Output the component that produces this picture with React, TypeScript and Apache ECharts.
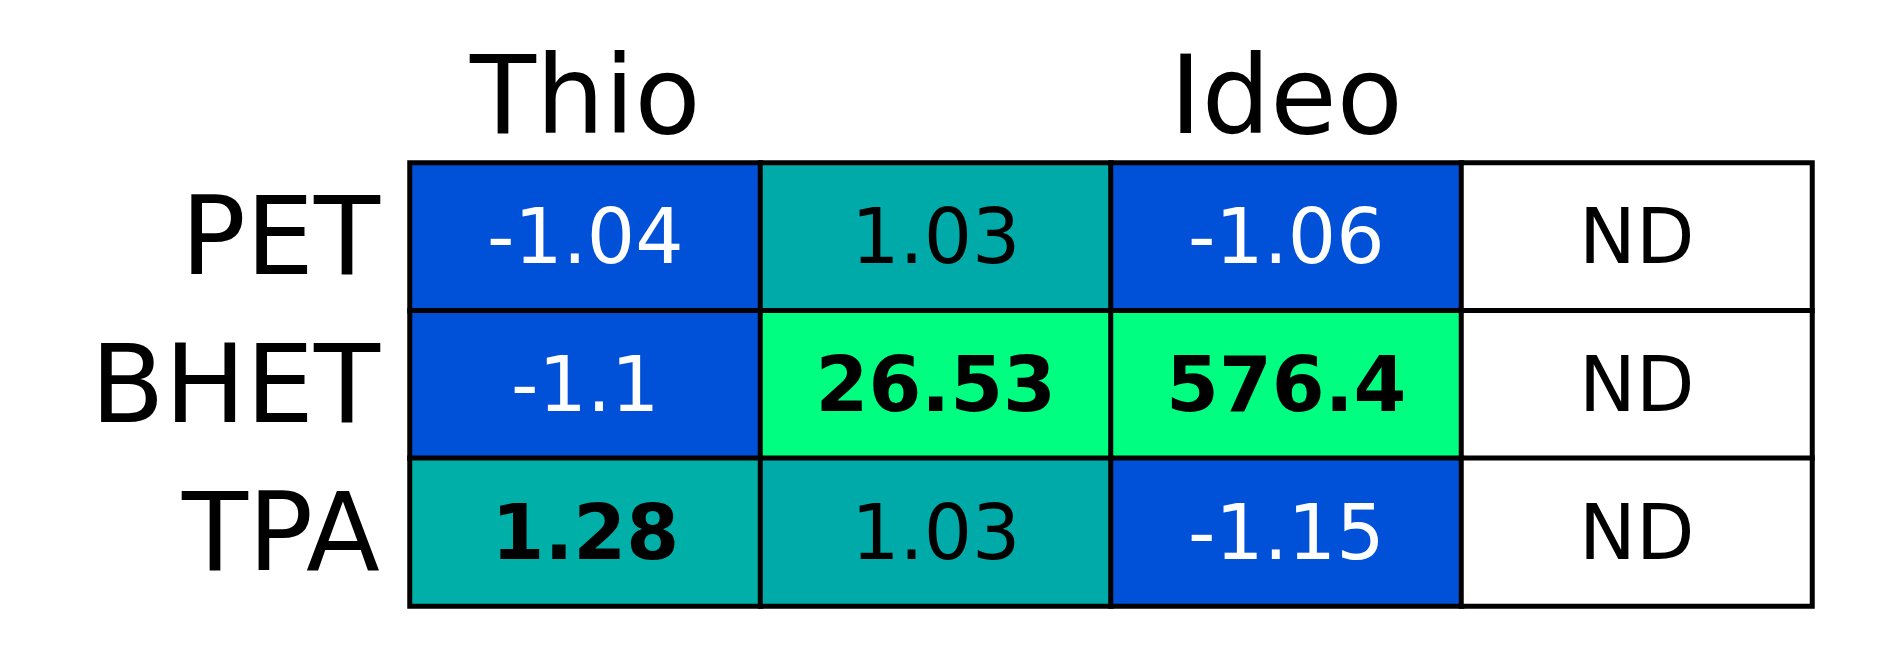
import React, { useEffect, useRef } from "react";
import * as echarts from "echarts";

const columns = ["Thio", "Baci", "Ideo", "Comm"];
const rows = ["PET", "BHET", "TPA"];
const values: (number | null)[][] = [
  [-1.04, 1.03, -1.06, null],
  [-1.1, 26.53, 576.4, null],
  [1.28, 1.03, -1.15, null],
];
const boldCells = [[2, 0], [1, 1], [1, 2]];
const palette = ["#ffffff", "#0050D8", "#00FF80", "#00B0A8", "#00AAA8"];

function colorIndex(v: number | null) {
  if (v === null) return 0;
  if (v < 0) return 1;
  if (v > 10) return 2;
  if (v > 1.1) return 3;
  return 4;
}

export default function App() {
  const ref = useRef<HTMLDivElement>(null);
  useEffect(() => {
    const chart = echarts.init(ref.current!, undefined, { renderer: "svg" });
    const data: any[] = [];
    rows.forEach((r, ri) =>
      columns.forEach((c, ci) => {
        const v = values[ri][ci];
        const bold = boldCells.some(([a, b]) => a === ri && b === ci);
        data.push({
          value: [ci, ri, v === null ? 0 : v, colorIndex(v)],
          label: {
            formatter: v === null ? "ND" : String(v),
            color: v !== null && v < 0 ? "#ffffff" : "#000000",
            fontWeight: bold ? "bold" : "normal",
          },
        });
      })
    );
    chart.setOption({
      animation: false,
      textStyle: { fontFamily: "DejaVu Sans" },
      grid: { left: 402, top: 155, width: 1402, height: 443 },
      visualMap: {
        type: "piecewise",
        show: false,
        dimension: 3,
        pieces: palette.map((c, i) => ({ value: i, color: c })),
      },
      xAxis: {
        type: "category",
        data: columns,
        position: "top",
        axisLine: { show: false },
        axisTick: { show: false },
        splitLine: { show: false },
        axisLabel: { fontSize: 108, color: "#000", margin: 14, fontFamily: "DejaVu Sans" },
      },
      yAxis: {
        type: "category",
        data: rows,
        inverse: true,
        axisLine: { show: false },
        axisTick: { show: false },
        axisLabel: { fontSize: 108, color: "#000", margin: 30, fontFamily: "DejaVu Sans" },
      },
      series: [
        {
          type: "heatmap",
          data,
          itemStyle: { borderColor: "#000", borderWidth: 5 },
          label: { show: true, fontSize: 76, fontFamily: "DejaVu Sans" },
          emphasis: { disabled: true },
        },
      ],
    });
    return () => chart.dispose();
  }, []);
  return <div ref={ref} style={{ width: 1862, height: 646 }} />;
}
